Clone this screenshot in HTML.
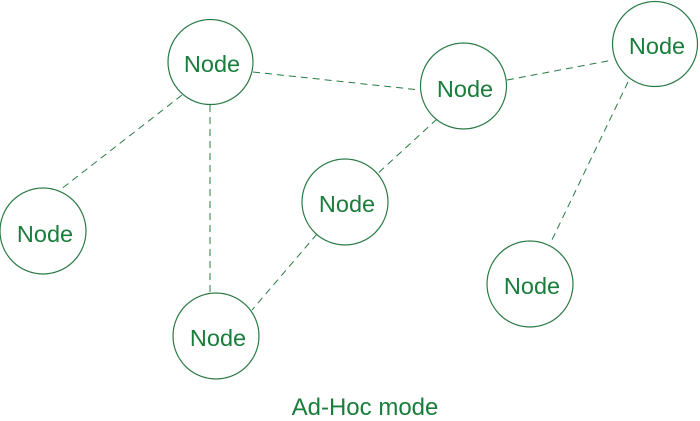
<!DOCTYPE html>
<html><head><meta charset="utf-8"><style>
html,body{margin:0;padding:0;background:#fff;}
svg{display:block;}
text{font-family:"Liberation Sans",sans-serif;fill:#1a7d3c;}
</style></head><body>
<svg width="700" height="421" viewBox="0 0 700 421" xmlns="http://www.w3.org/2000/svg">
<g stroke="#2a7a45" stroke-width="1" stroke-dasharray="7,5" fill="none">
<line x1="253" y1="72" x2="420" y2="90"/>
<line x1="210" y1="105" x2="210" y2="293"/>
<line x1="182" y1="95" x2="60" y2="190"/>
<line x1="507" y1="80" x2="613" y2="60"/>
<line x1="437" y1="119" x2="375" y2="176"/>
<line x1="317" y1="234" x2="252" y2="310"/>
<line x1="628" y1="82" x2="550" y2="244"/>
</g>
<g stroke="#2a7a45" stroke-width="1.2" fill="#fff">
<circle cx="210.5" cy="62" r="42.5"/>
<circle cx="463.5" cy="86" r="43"/>
<circle cx="655" cy="44" r="42.5"/>
<circle cx="43" cy="231" r="43"/>
<circle cx="345" cy="202" r="43"/>
<circle cx="530" cy="284" r="43"/>
<circle cx="216" cy="336" r="43"/>
</g>
<g font-size="23.5" text-anchor="middle">
<text x="212" y="72">Node</text>
<text x="465" y="97">Node</text>
<text x="657" y="54">Node</text>
<text x="45" y="242">Node</text>
<text x="347" y="212">Node</text>
<text x="532" y="294">Node</text>
<text x="218" y="346">Node</text>
<text x="365" y="415" font-size="24">Ad-Hoc mode</text>
</g>
</svg>
</body></html>
